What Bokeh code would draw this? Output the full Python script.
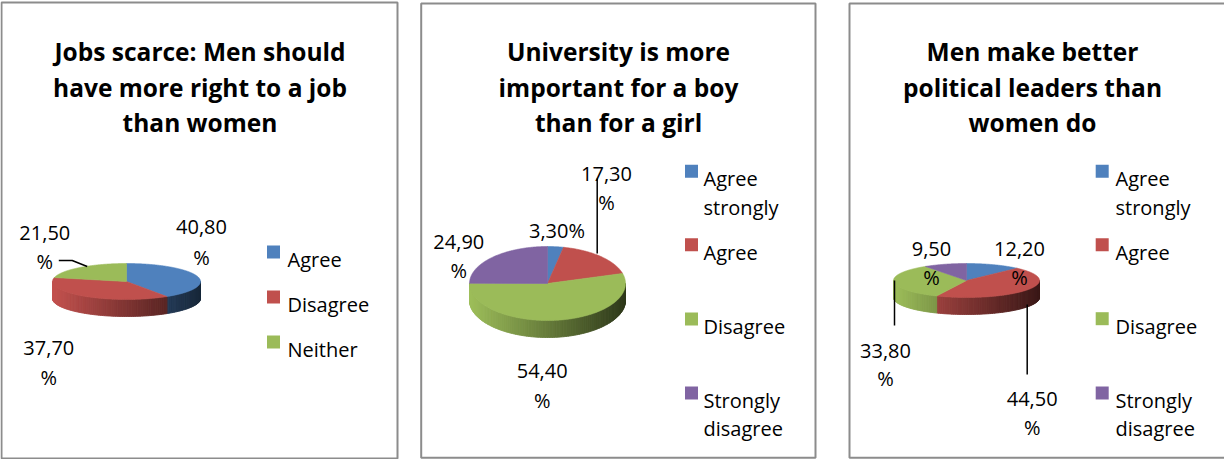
import numpy as np
from bokeh.plotting import figure
from bokeh.models import Range1d
from bokeh.core.properties import value
from bokeh.embed import file_html
from bokeh.resources import INLINE

# ---------------- data ----------------
titles1 = ["Jobs scarce: Men should", "have more right to a job", "than women"]
cats1 = ["Agree", "Disagree", "Neither"]
vals1 = [40.8, 37.7, 21.5]

titles2 = ["University is more", "important for a boy", "than for a girl"]
cats2 = ["Agree strongly", "Agree", "Disagree", "Strongly disagree"]
vals2 = [3.3, 17.3, 54.4, 24.9]

titles3 = ["Men make better", "political leaders than", "women do"]
cats3 = ["Agree strongly", "Agree", "Disagree", "Strongly disagree"]
vals3 = [12.2, 44.5, 33.8, 9.5]

colors3 = ["#4F81BD", "#C0504D", "#9BBB59"]
colors4 = ["#4F81BD", "#C0504D", "#9BBB59", "#8064A2"]

# ---------------- layout (positions/styles) ----------------
FONT = "Open Sans"
panels = [
    dict(titles=titles1, cats=cats1, vals=vals1, colors=colors3,
         box=(1, 2, 397, 458), title_x=199.5, title_y=[51, 86.7, 121.7],
         pie=(126, 281, 74, 18, 17),
         leg_sq_x=273, leg_tx=287, leg_y=[259, 304, 349],
         labels=[(201, 226.7, 256.7), (48.3, 347.7, 376.7), (44.3, 232.3, 261)],
         leaders=[[(58.3, 260), (71.7, 260), (86.7, 266)]]),
    dict(titles=titles2, cats=cats2, vals=vals2, colors=colors4,
         box=(420.7, 3, 815, 457.3), title_x=618, title_y=[51, 86.7, 121.7],
         pie=(547, 283, 78, 37, 17),
         leg_sq_x=691, leg_tx=703, leg_y=[178.3, 251.7, 326, 400],
         labels=[(556.5, 230, None), (606, 173.3, 201.7), (541.7, 370.7, 400), (458.3, 241.7, 270)],
         leaders=[[(596.7, 178), (596.7, 253)]]),
    dict(titles=titles3, cats=cats3, vals=vals3, colors=colors4,
         box=(849, 3, 1240, 457.3), title_x=1032, title_y=[51, 86.7, 121.7],
         pie=(966, 280, 73, 17, 17),
         leg_sq_x=1101.7, leg_tx=1115, leg_y=[178.3, 251.7, 325.7, 400],
         labels=[(1019, 248.3, 276.7), (1031.7, 398.3, 426.7), (885, 350, 378.3), (931, 248.3, 276.7)],
         leaders=[[(894, 280), (894, 325)], [(1026.7, 304), (1026.7, 374)]]),
]

W, H = 1224, 459
p = figure(width=W, height=H, x_range=Range1d(0, W), y_range=Range1d(H, 0),
           output_backend="svg", toolbar_location=None,
           x_axis_location=None, y_axis_location=None, min_border=0)
p.grid.visible = False
p.outline_line_color = None
p.background_fill_color = "white"
p.border_fill_color = "white"


def shade(hexcol, f):
    r, g, b = int(hexcol[1:3], 16), int(hexcol[3:5], 16), int(hexcol[5:7], 16)
    return "#%02x%02x%02x" % tuple(int(max(0, min(255, c * f))) for c in (r, g, b))


def fmt(v):
    return ("%.2f" % v).replace(".", ",")


for pn in panels:
    x0, y0, x1, y1 = pn["box"]
    p.quad(left=[x0], right=[x1], top=[y0], bottom=[y1], fill_color=None,
           line_color="#8c8c8c", line_width=2)

    # titles
    p.text(x=[pn["title_x"]] * len(pn["titles"]), y=pn["title_y"], text=pn["titles"],
           text_font=value(FONT), text_font_style="bold", text_font_size="24.5px",
           text_align="center", text_baseline="alphabetic", text_color="black")

    # pie
    cx, cy, rx, ry, depth = pn["pie"]
    vals = pn["vals"]
    total = float(sum(vals))
    cum = np.concatenate([[0.0], np.cumsum(vals)]) / total * 2 * np.pi
    side_xs, side_ys, side_c = [], [], []
    top_xs, top_ys, top_c = [], [], []
    for i in range(len(vals)):
        a0, a1 = cum[i], cum[i + 1]
        col = pn["colors"][i]
        lo, hi = max(a0, np.pi / 2), min(a1, 3 * np.pi / 2)
        if hi > lo:
            n = max(int((hi - lo) / 0.03), 1)
            edges = np.linspace(lo, hi, n + 1)
            for s0, s1 in zip(edges[:-1], edges[1:]):
                tt = np.linspace(s0, s1, 4)
                px = cx + rx * np.sin(tt)
                py = cy - ry * np.cos(tt)
                side_xs.append(list(px) + list(px[::-1]))
                side_ys.append(list(py) + list(py[::-1] + depth))
                f = 0.66 - 0.36 * np.sin((s0 + s1) / 2)
                side_c.append(shade(col, f))
        t = np.linspace(a0, a1, max(int((a1 - a0) / 0.01), 2))
        top_xs.append([cx] + list(cx + rx * np.sin(t)))
        top_ys.append([cy] + list(cy - ry * np.cos(t)))
        top_c.append(col)
    p.patches(side_xs, side_ys, fill_color=side_c, line_color=side_c, line_width=1)
    p.patches(top_xs, top_ys, fill_color=top_c, line_color=top_c, line_width=0.6)

    # leader lines
    for ld in pn["leaders"]:
        p.line([a for a, b in ld], [b for a, b in ld], line_color="black", line_width=1.5)

    # data labels
    for v, (lx, ly1, ly2) in zip(vals, pn["labels"]):
        if ly2 is None:
            p.text(x=[lx], y=[ly1], text=[fmt(v) + "%"], text_font=value(FONT),
                   text_font_size="20px", text_align="center", text_baseline="alphabetic",
                   text_color="black")
        else:
            p.text(x=[lx, lx], y=[ly1, ly2], text=[fmt(v), "%"], text_font=value(FONT),
                   text_font_size="20px", text_align="center", text_baseline="alphabetic",
                   text_color="black")

    # legend
    for cat, col, ly in zip(pn["cats"], pn["colors"], pn["leg_y"]):
        p.scatter(x=[pn["leg_sq_x"]], y=[ly - 7.5], marker="square", size=13,
                  fill_color=col, line_color=None)
        words = cat.split(" ")
        p.text(x=[pn["leg_tx"]] * len(words), y=[ly + 28.4 * k for k in range(len(words))],
               text=words, text_font=value(FONT), text_font_size="20px",
               text_align="left", text_baseline="alphabetic", text_color="black")

open("out.html", "w").write(file_html(p, INLINE))
